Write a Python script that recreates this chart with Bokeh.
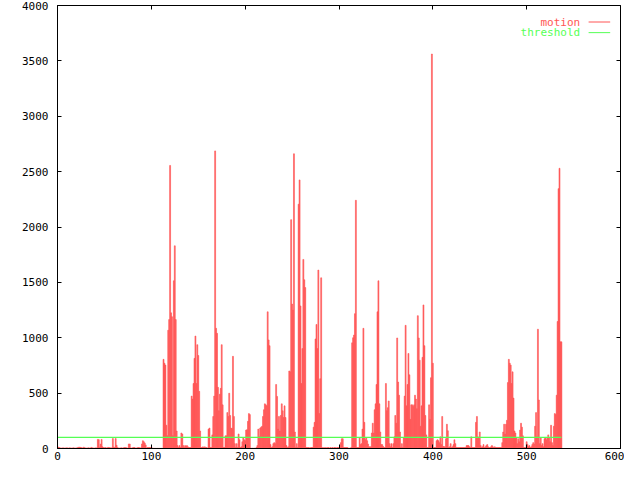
from bokeh.plotting import figure
from bokeh.models import Range1d, FixedTicker, LinearAxis
from bokeh.embed import file_html
from bokeh.resources import INLINE
from bokeh.core.properties import value

# motion values, one per frame index
motion_a = [10, 12, 8, 5, 4, 5, 6, 4,
            5, 5, 6, 5, 4, 6, 5, 4, 5, 6, 5, 4, 5, 6, 10, 12,
            11, 9, 6, 5, 12, 6, 5, 4, 5, 6, 5, 4, 10, 6, 5, 4,
            5, 6, 5, 82, 80, 10, 40, 82, 15, 8, 6, 9, 5, 6, 10, 8,
            7, 5, 6, 90, 12, 8, 90, 29, 8, 5, 4, 5, 6, 5, 5, 9, 9,
            8, 5, 4, 41, 40, 5, 4, 6, 9, 9, 5, 4, 6, 9, 8, 5,
            6, 41, 70, 61, 50, 32, 5, 9, 8, 9, 9, 6, 5, 2, 1, 2]
motion_b = [1, 1, 2, 1, 2, 1, 2, 1, 805, 770, 753, 210, 114, 1068, 1164, 2556,
            1225, 1190, 114, 1514, 1830, 1164, 158, 26, 9, 26, 9, 140, 131, 26, 9, 26,
            20, 26, 15, 9, 9, 9, 473, 446, 587, 814, 1015, 587, 937, 840, 516, 158,
            9, 9, 15, 9, 15, 9, 9, 3, 175, 184, 9, 9, 123, 289, 473, 2687,
            1085, 1040, 552, 341, 490, 543, 937, 394, 9, 9, 114, 114, 324, 289, 499, 298, 184,
            180, 832, 289, 44, 9, 44, 9, 131, 79, 9, 15, 61, 96, 79, 70, 166]
motion_c = [170, 245, 315, 306, 3, 2, 3, 2, 3, 2, 9, 26, 175, 105, 184, 193,
            200, 289, 350, 403, 394, 385, 1234, 980, 928, 35, 9, 15, 44, 53, 44, 578,
            470, 175, 289, 158, 298, 403, 340, 280, 385, 280, 26, 9, 15, 700, 692, 2066,
            1304, 1250, 2661, 149, 9, 44, 9, 2206, 2425, 1287, 587, 902, 1707, 1523, 1453, 9,
            9, 9, 9, 3, 9, 9, 9, 193, 236, 989, 1120, 902, 1611, 315, 630, 1541,
            9, 5, 9, 5, 9, 5, 9, 9, 3, 9, 5, 9, 5, 9, 9, 5]
motion_d = [9, 9, 9, 9, 53, 88, 88, 9, 9, 9, 9, 9, 3, 3, 3, 9, 954,
            1000, 1024, 1217, 2241, 9, 9, 9, 96, 35, 44, 175, 1085, 236, 79, 96, 70,
            40, 15, 15, 15, 140, 228, 140, 350, 403, 578, 1234, 1514, 403, 149, 35, 35,
            20, 9, 9, 587, 341, 368, 429, 44, 15, 44, 9, 44, 105, 298, 228, 998,
            600, 481, 149, 9, 44, 9, 96, 473, 1112, 385, 578, 858, 665, 263, 394, 394,
            380, 394, 481, 446, 359, 1199, 998, 797, 201, 385, 823, 1296, 928, 298, 123, 9,
            9, 394, 263, 639, 3562, 770, 9, 9, 9, 70, 79, 70, 53, 105, 35, 289]
motion_e = [18, 18, 9, 88, 219, 160, 9, 15, 44, 9, 15, 35, 79, 44, 9, 9,
            9, 9, 9, 9, 9, 9, 9, 9, 9, 26, 26, 26, 15, 9, 105, 9, 9,
            9, 9, 236, 289, 105, 96, 149, 26, 9, 15, 35, 9, 15, 26, 35, 15,
            9, 9, 15, 26, 15, 9, 15, 9, 9, 9, 9, 9, 9, 9, 53, 149,
            219, 131, 219, 254, 595, 805, 770, 753, 587, 692, 455, 158, 140, 96, 44, 88,
            60, 166, 228, 193, 114, 9, 9, 9, 61, 35, 15, 26, 9, 15, 35, 53,
            40, 201, 324, 105, 1077, 438, 44, 96, 26, 44, 15, 88, 96, 79, 96, 123,
            100, 61, 210, 53, 26, 201, 315, 306, 481, 1147, 2346, 2530, 963, 963]
motion = motion_a + motion_b + motion_c + motion_d + motion_e
frames = list(range(len(motion)))
threshold = 100

x_ticks = [0, 100, 200, 300, 400, 500, 600]
y_ticks = [0, 500, 1000, 1500, 2000, 2500, 3000, 3500, 4000]

RED = "#ff5555"
GREEN = "#55ff55"
FONT = "DejaVu Sans Mono"

p = figure(width=624, height=464, output_backend="svg", toolbar_location=None,
           x_range=Range1d(0, 600), y_range=Range1d(0, 4000),
           min_border_left=57, min_border_right=4, min_border_top=5, min_border_bottom=16,
           background_fill_color="white", border_fill_color="white")
p.xgrid.visible = False
p.ygrid.visible = False
p.outline_line_color = "black"
p.outline_line_width = 1

def style_axis(ax, ticks):
    ax.ticker = FixedTicker(ticks=ticks)
    ax.axis_line_color = "black"
    ax.major_tick_line_color = "black"
    ax.major_tick_in = 4
    ax.major_tick_out = 0
    ax.minor_tick_line_color = None
    ax.major_label_text_font = FONT
    ax.major_label_text_font_size = "11px"
    ax.major_label_text_color = "black"

def mirror_axis(ticks):
    ax = LinearAxis(ticker=FixedTicker(ticks=[], minor_ticks=ticks))
    ax.axis_line_color = None
    ax.major_tick_line_color = None
    ax.minor_tick_line_color = "black"
    ax.minor_tick_in = 4
    ax.minor_tick_out = 0
    ax.major_label_standoff = 0
    return ax

style_axis(p.xaxis[0], x_ticks)
p.xaxis[0].major_label_standoff = 3
style_axis(p.yaxis[0], y_ticks)
p.yaxis[0].major_label_standoff = 9

p.add_layout(mirror_axis(y_ticks), "right")
p.add_layout(mirror_axis(x_ticks), "above")

p.vbar(x=frames, top=motion, bottom=0, width=1.0,
       fill_color=RED, line_color=RED, line_width=0.6)
p.line([frames[0], frames[-1]], [threshold, threshold], line_color=GREEN, line_width=1.3)

# key (top right, gnuplot style)
key_names = ["motion", "threshold"]
key_colors = [RED, GREEN]
key_y = [3851, 3755]
for name, col, ky in zip(key_names, key_colors, key_y):
    p.text(x=[557], y=[ky], text=[name], text_align="right", text_baseline="middle",
           text_color=col, text_font=value(FONT), text_font_size="11px")
    p.segment(x0=[566], y0=[ky], x1=[589], y1=[ky], line_color=col, line_width=1)

open("out.html", "w").write(file_html(p, INLINE))
